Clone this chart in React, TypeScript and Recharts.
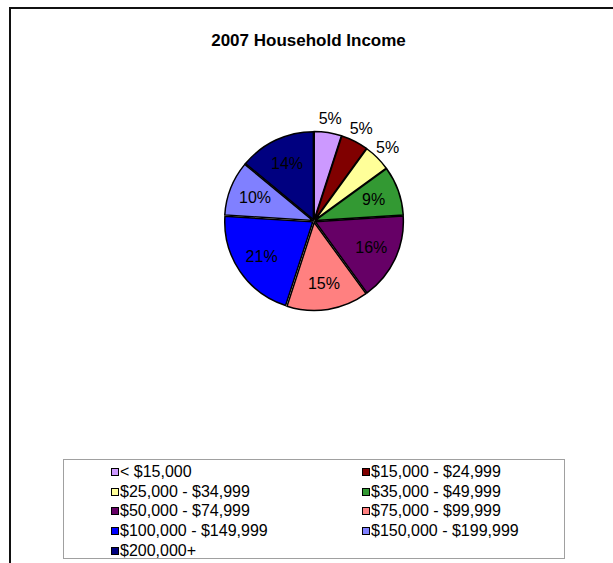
import React from "react";
import { PieChart, Pie, Cell, Legend, Sector } from "recharts";

const categories = [
  "< $15,000",
  "$15,000 - $24,999",
  "$25,000 - $34,999",
  "$35,000 - $49,999",
  "$50,000 - $74,999",
  "$75,000 - $99,999",
  "$100,000 - $149,999",
  "$150,000 - $199,999",
  "$200,000+",
];
const shares = [5, 5, 5, 9, 16, 15, 21, 10, 14];
const COLORS = [
  "#CC99FF",
  "#800000",
  "#FFFF99",
  "#339933",
  "#660066",
  "#FF8080",
  "#0000FF",
  "#8080FF",
  "#000080",
];

const FONT = '"Liberation Sans", Arial, Helvetica, sans-serif';
const RAD = Math.PI / 180;

const chartData = categories.map((name, i) => ({ name, value: shares[i] }));

function renderLabel(props: any) {
  const { cx, cy, midAngle, outerRadius, value } = props;
  const r = value <= 5 ? outerRadius + 16 : outerRadius * 0.72;
  const x = cx + r * Math.cos(-midAngle * RAD);
  const y = cy + r * Math.sin(-midAngle * RAD);
  return (
    <text
      x={x}
      y={y}
      fill="#000"
      fontSize={16}
      fontFamily={FONT}
      textAnchor="middle"
      dominantBaseline="central"
    >
      {value}%
    </text>
  );
}

// small explode so the slices show thin white gaps like the original
function renderSlice(props: any) {
  const mid = (props.startAngle + props.endAngle) / 2;
  const dx = 1.5 * Math.cos(-mid * RAD);
  const dy = 1.5 * Math.sin(-mid * RAD);
  return <Sector {...props} cx={props.cx + dx} cy={props.cy + dy} />;
}

// legend keeps the data order (recharts sorts the payload by name otherwise)
function LegendBox() {
  return (
    <div
      style={{
        width: 502,
        height: 100,
        boxSizing: "border-box",
        border: "1px solid #a0a0a0",
        paddingTop: 2,
        display: "grid",
        gridTemplateColumns: "251px 251px",
        gridAutoRows: "19.75px",
        fontFamily: FONT,
        fontSize: 16,
        color: "#000",
        background: "#fff",
      }}
    >
      {categories.map((name, i) => (
        <div
          key={name}
          style={{
            display: "flex",
            alignItems: "center",
            paddingLeft: 47,
            whiteSpace: "nowrap",
          }}
        >
          <span
            style={{
              width: 6,
              height: 6,
              border: "1px solid #000",
              background: COLORS[i],
              marginRight: 1,
              display: "inline-block",
            }}
          />
          {name}
        </div>
      ))}
    </div>
  );
}

export default function App() {
  return (
    <div
      style={{
        position: "absolute",
        left: 0,
        top: 0,
        width: 613,
        height: 563,
        overflow: "hidden",
        background: "#fff",
      }}
    >
      <div
        style={{
          position: "absolute",
          left: 9,
          top: 7,
          width: 640,
          height: 620,
          border: "2px solid #111",
        }}
      />
      <div
        style={{
          position: "absolute",
          left: 0,
          top: 31,
          width: 613,
          textAlign: "center",
          fontFamily: FONT,
          fontWeight: "bold",
          fontSize: 17,
          paddingLeft: 4,
          boxSizing: "border-box",
        }}
      >
        2007 Household Income
      </div>
      <div style={{ position: "absolute", left: 0, top: 0 }}>
        <PieChart width={613} height={563}>
          <Pie
            data={chartData}
            dataKey="value"
            nameKey="name"
            cx={309}
            cy={216}
            outerRadius={88}
            startAngle={90}
            endAngle={-270}
            stroke="#000"
            strokeWidth={1.5}
            label={renderLabel}
            labelLine={false}
            shape={renderSlice}
            isAnimationActive={false}
          >
            {chartData.map((_, i) => (
              <Cell key={i} fill={COLORS[i]} />
            ))}
          </Pie>
          <Legend
            content={<LegendBox />}
            wrapperStyle={{ position: "absolute", left: 63, top: 459, width: 502, height: 100 }}
          />
        </PieChart>
      </div>
    </div>
  );
}
